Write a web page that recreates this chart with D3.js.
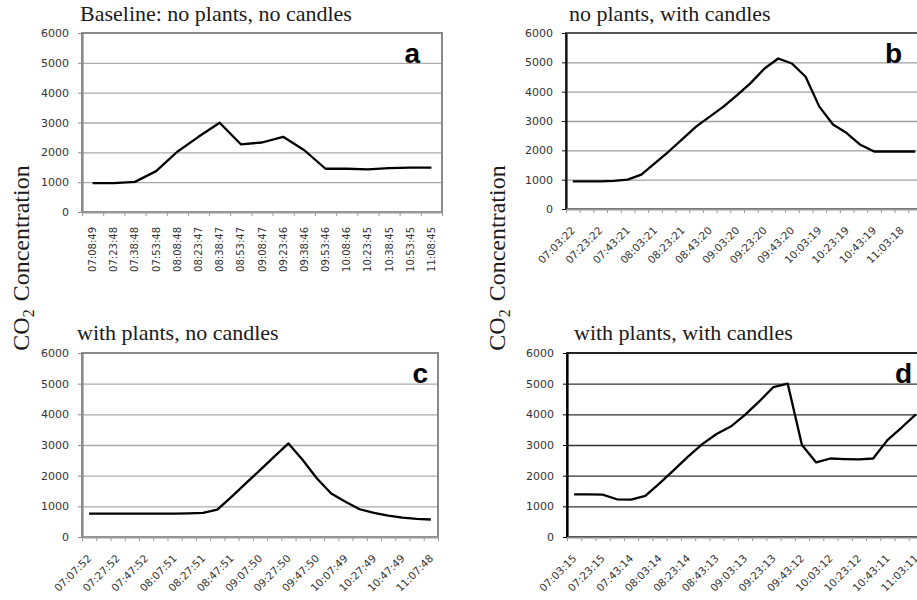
<!DOCTYPE html>
<html lang="en">
<head>
<meta charset="UTF-8">
<title>CO2 Concentration</title>
<script src="https://d3js.org/d3.v7.min.js"></script>
<style>
  body { margin: 0; background: #fff; }
</style>
</head>
<body>
<div id="chart"></div>
<script>
// ---- data ----
const yTicks = [0, 1000, 2000, 3000, 4000, 5000, 6000]

const timesA = ["07:08:49","07:23:48","07:38:48","07:53:48","08:08:48","08:23:47","08:38:47","08:53:47",
  "09:08:47","09:23:46","09:38:46","09:53:46","10:08:46","10:23:45","10:38:45","10:53:45","11:08:45"]
const valuesA = [970, 970, 1010, 1370, 2020, 2520, 2990, 2270, 2330, 2520, 2070, 1450, 1450, 1430, 1470, 1490, 1490]

const timesB = ["07:03:22","07:13:22","07:23:22","07:33:22","07:43:21","07:53:21","08:03:21","08:13:21",
  "08:23:21","08:33:21","08:43:20","08:53:20","09:03:20","09:13:20","09:23:20","09:33:20","09:43:20",
  "09:53:19","10:03:19","10:13:19","10:23:19","10:33:19","10:43:19","10:53:18","11:03:18","11:13:18"]
const valuesB = [940, 940, 940, 960, 1000, 1170, 1560, 1960, 2380, 2810, 3150, 3490, 3880, 4300, 4790, 5130,
  4960, 4510, 3490, 2880, 2590, 2190, 1960, 1960, 1960, 1960]

const timesC = ["07:07:52","07:17:52","07:27:52","07:37:52","07:47:52","07:57:51","08:07:51","08:17:51",
  "08:27:51","08:37:51","08:47:51","08:57:50","09:07:50","09:17:50","09:27:50","09:37:50","09:47:50",
  "09:57:49","10:07:49","10:17:49","10:27:49","10:37:49","10:47:49","10:57:48","11:07:48"]
const valuesC = [760, 760, 760, 760, 760, 760, 765, 770, 785, 890, 1310, 1750, 2180, 2620, 3050, 2510,
  1910, 1420, 1150, 905, 785, 700, 630, 590, 570]

const timesD = ["07:03:15","07:13:15","07:23:15","07:33:14","07:43:14","07:53:14","08:03:14","08:13:14",
  "08:23:14","08:33:13","08:43:13","08:53:13","09:03:13","09:13:13","09:23:13","09:33:12","09:43:12",
  "09:53:12","10:03:12","10:13:12","10:23:12","10:33:11","10:43:11","10:53:11","11:03:11"]
const valuesD = [1390, 1390, 1380, 1230, 1220, 1340, 1750, 2180, 2620, 3030, 3360, 3600, 3980, 4420, 4890,
  5000, 3000, 2430, 2560, 2540, 2530, 2560, 3160, 3570, 4000]

const titles = ["Baseline: no plants, no candles", "no plants, with candles",
  "with plants, no candles", "with plants, with candles"]
const letters = ["a", "b", "c", "d"]

// ---- drawing ----
const width = 917
const height = 600
const svg = d3.select("#chart").append("svg")
    .attr("width", width)
    .attr("height", height)

const panels = [
  {times: timesA, values: valuesA, title: titles[0], letter: letters[0],
   left: 82, right: 442, top: 33, bottom: 212, every: 1, rot: -90,
   titleX: 80, titleY: 21, letterX: 420, letterY: 63,
   frame: "#8a8a8a", grid: "#ababab", yAxis: "#8a8a8a", xAxis: "#9a9a9a"},
  {times: timesB, values: valuesB, title: titles[1], letter: letters[1],
   left: 566, right: 922, top: 33, bottom: 209, every: 2, rot: -45,
   titleX: 569, titleY: 21, letterX: 902, letterY: 63,
   frame: "#555", grid: "#a0a0a0", yAxis: "#111", xAxis: "#999"},
  {times: timesC, values: valuesC, title: titles[2], letter: letters[2],
   left: 82, right: 438, top: 353, bottom: 537, every: 2, rot: -45,
   titleX: 77, titleY: 340, letterX: 428, letterY: 383,
   frame: "#8a8a8a", grid: "#ababab", yAxis: "#8a8a8a", xAxis: "#9a9a9a"},
  {times: timesD, values: valuesD, title: titles[3], letter: letters[3],
   left: 567, right: 923, top: 353, bottom: 537, every: 2, rot: -45,
   titleX: 574, titleY: 340, letterX: 912, letterY: 383,
   frame: "#222", grid: "#333", yAxis: "#000", xAxis: "#888"}
]

function drawPanel(p) {
    const g = svg.append("g")
    const n = p.times.length
    const x = d3.scaleBand().domain(p.times).range([p.left, p.right])
    const edges = d3.scaleLinear().domain([0, n]).range([p.left, p.right])
    const y = d3.scaleLinear().domain([0, 6000]).range([p.bottom, p.top])

    // gridlines
    g.append("g")
        .attr("transform", "translate(" + p.left + ",0)")
        .call(d3.axisLeft(y).tickValues(yTicks.slice(1, -1)).tickSize(-(p.right - p.left)).tickFormat(""))
        .call(a => a.select(".domain").remove())
        .selectAll("line")
        .attr("stroke", p.grid)
        .attr("stroke-width", 1.4)

    // plot frame
    g.append("rect")
        .attr("x", p.left)
        .attr("y", p.top)
        .attr("width", p.right - p.left)
        .attr("height", p.bottom - p.top)
        .attr("fill", "none")
        .attr("stroke", p.frame)
        .attr("stroke-width", 2)

    // y axis
    const ya = g.append("g")
        .attr("transform", "translate(" + p.left + ",0)")
        .call(d3.axisLeft(y).tickValues(yTicks).tickFormat(d3.format("d")).tickSize(4).tickSizeOuter(0).tickPadding(9))
    ya.select(".domain").attr("stroke", p.yAxis).attr("stroke-width", 2.2)
    ya.selectAll("line").attr("stroke", p.yAxis)
    ya.selectAll("text")
        .style("font-family", "'DejaVu Sans', sans-serif")
        .style("font-size", "11px")
        .attr("fill", "#333")

    // x axis with tick marks at category edges
    const xa = g.append("g")
        .attr("transform", "translate(0," + p.bottom + ")")
        .call(d3.axisBottom(edges).tickValues(d3.range(n + 1)).tickSize(4).tickSizeOuter(0).tickFormat(""))
    xa.select(".domain").attr("stroke", p.xAxis).attr("stroke-width", 2)
    xa.selectAll("line").attr("stroke", "#999")

    // category labels
    const shown = p.times.filter((d, i) => i % p.every === 0)
    const xl = g.append("g")
        .attr("transform", "translate(0," + p.bottom + ")")
        .call(d3.axisBottom(x).tickValues(shown).tickSize(0))
    xl.select(".domain").remove()
    const lab = xl.selectAll("text")
        .attr("x", 0)
        .attr("y", 0)
        .style("font-family", "'DejaVu Sans', sans-serif")
        .attr("fill", "#333")
        .style("text-anchor", "end")
    if (p.rot === -90) {
        lab.attr("dy", "0.35em")
            .style("font-size", "10px")
            .attr("transform", "translate(0,15) rotate(-90)")
    } else {
        lab.attr("dy", 0)
            .style("font-size", "10.5px")
            .attr("transform", "translate(3,22) rotate(-45)")
    }

    // data line
    const line = d3.line()
        .x((d, i) => x(p.times[i]) + x.bandwidth() / 2)
        .y(d => y(d))
    g.append("path")
        .datum(p.values)
        .attr("d", line)
        .attr("fill", "none")
        .attr("stroke", "#000")
        .attr("stroke-width", 2.3)
        .attr("stroke-linejoin", "round")

    // title
    g.append("text")
        .attr("x", p.titleX)
        .attr("y", p.titleY)
        .style("font-family", "'Liberation Serif', 'Times New Roman', serif")
        .style("font-size", "22px")
        .attr("fill", "#1a1a1a")
        .text(p.title)

    // panel letter
    g.append("text")
        .attr("x", p.letterX)
        .attr("y", p.letterY)
        .style("text-anchor", "end")
        .style("font-family", "'Liberation Sans', Arial, sans-serif")
        .style("font-weight", "bold")
        .style("font-size", "28px")
        .attr("fill", "#000")
        .text(p.letter)
}

panels.forEach(drawPanel)

// y axis titles (left and right column)
;[29, 505].forEach(bx => {
    const t = svg.append("text")
        .attr("transform", "translate(" + bx + ",258) rotate(-90)")
        .style("text-anchor", "middle")
        .style("font-family", "'Liberation Serif', 'Times New Roman', serif")
        .style("font-size", "24px")
        .attr("fill", "#1a1a1a")
    t.append("tspan").text("CO")
    t.append("tspan").attr("dy", 5).style("font-size", "16px").text("2")
    t.append("tspan").attr("dy", -5).attr("dx", 8).text("Concentration")
})
</script>
</body>
</html>
